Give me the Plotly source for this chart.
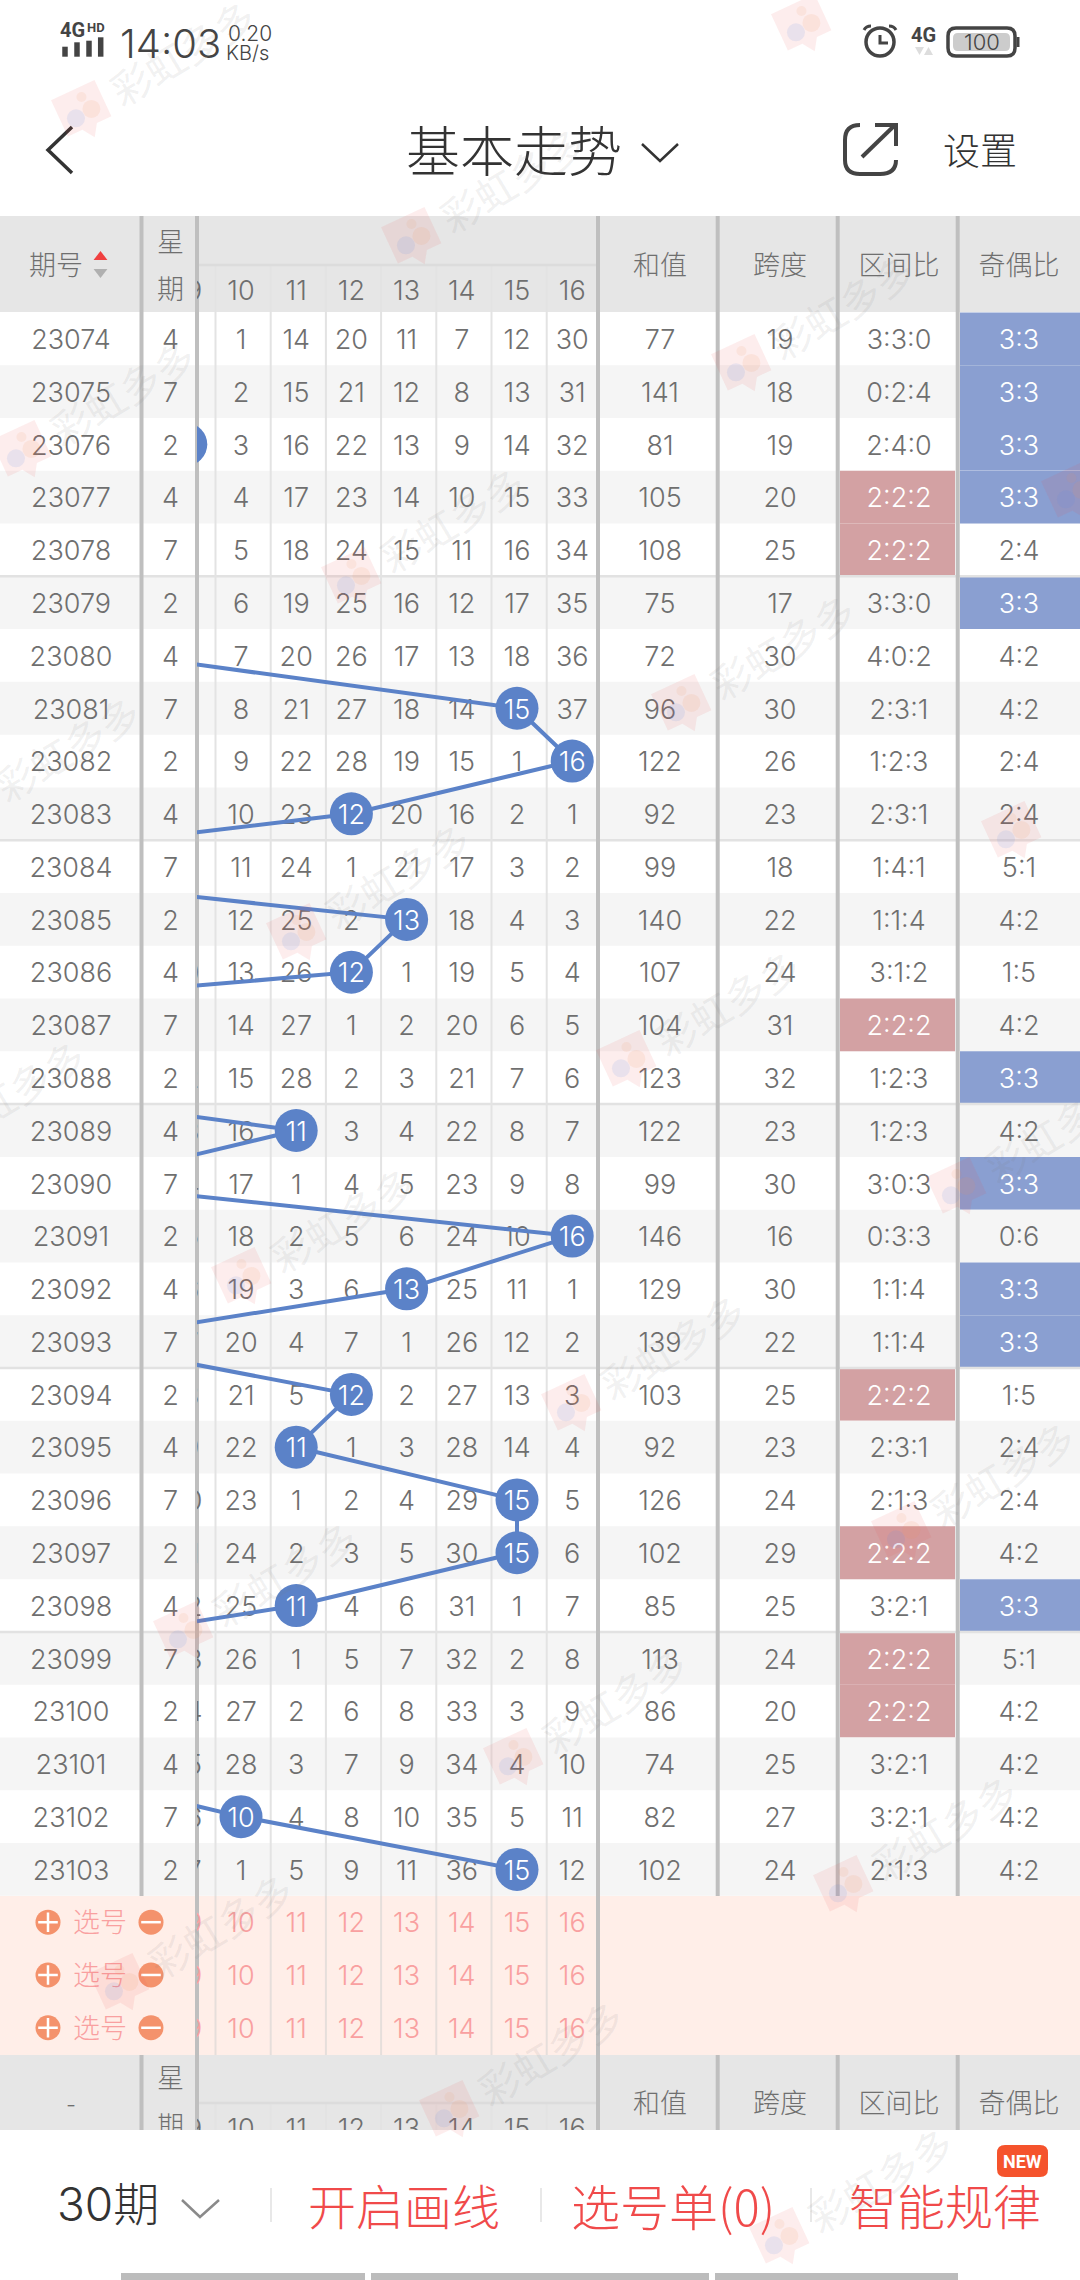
import math

import plotly.graph_objects as go


################################
######## DATA ########
################################

issue_list = list(range(23074, 23104))
week_list = [4, 7, 2, 4, 7, 2, 4, 7, 2, 4, 7, 2, 4, 7, 2, 4, 7, 2, 4, 7, 2, 4, 7, 2, 4, 7, 2, 4, 7, 2]

# ball of the column on each issue, part of them sit left of the scroll edge
ball_list = [3, 5, 9, 5, 6, 7, 8, 15, 16, 12, 4, 13, 12, 1, 4, 11, 7, 16, 13, 7, 12, 11, 15, 15, 11, 5, 3, 6, 10, 15]

col_09 = [7, 8, None, 1, 2, 3, 4, 5, 6, 7, 8, 9, 10, 11, 12, 13, 14, 15, 16, 17, 18, 19, 20, 21, 22, 23, 24, 25, 26, 27]
col_10 = [1, 2, 3, 4, 5, 6, 7, 8, 9, 10, 11, 12, 13, 14, 15, 16, 17, 18, 19, 20, 21, 22, 23, 24, 25, 26, 27, 28, None, 1]
col_11 = [14, 15, 16, 17, 18, 19, 20, 21, 22, 23, 24, 25, 26, 27, 28, None, 1, 2, 3, 4, 5, None, 1, 2, None, 1, 2, 3, 4, 5]
col_12 = [20, 21, 22, 23, 24, 25, 26, 27, 28, None, 1, 2, None, 1, 2, 3, 4, 5, 6, 7, None, 1, 2, 3, 4, 5, 6, 7, 8, 9]
col_13 = [11, 12, 13, 14, 15, 16, 17, 18, 19, 20, 21, None, 1, 2, 3, 4, 5, 6, None, 1, 2, 3, 4, 5, 6, 7, 8, 9, 10, 11]
col_14 = [7, 8, 9, 10, 11, 12, 13, 14, 15, 16, 17, 18, 19, 20, 21, 22, 23, 24, 25, 26, 27, 28, 29, 30, 31, 32, 33, 34, 35, 36]
col_15 = [12, 13, 14, 15, 16, 17, 18, None, 1, 2, 3, 4, 5, 6, 7, 8, 9, 10, 11, 12, 13, 14, None, None, 1, 2, 3, 4, 5, None]
col_16 = [30, 31, 32, 33, 34, 35, 36, 37, None, 1, 2, 3, 4, 5, 6, 7, 8, None, 1, 2, 3, 4, 5, 6, 7, 8, 9, 10, 11, 12]

sum_list = [77, 141, 81, 105, 108, 75, 72, 96, 122, 92, 99, 140, 107, 104, 123, 122, 99, 146, 129, 139, 103, 92, 126, 102, 85, 113, 86, 74, 82, 102]
span_list = [19, 18, 19, 20, 25, 17, 30, 30, 26, 23, 18, 22, 24, 31, 32, 23, 30, 16, 30, 22, 25, 23, 24, 29, 25, 24, 20, 25, 27, 24]
zone_list = ['3:3:0', '0:2:4', '2:4:0', '2:2:2', '2:2:2', '3:3:0', '4:0:2', '2:3:1', '1:2:3', '2:3:1',
             '1:4:1', '1:1:4', '3:1:2', '2:2:2', '1:2:3', '1:2:3', '3:0:3', '0:3:3', '1:1:4', '1:1:4',
             '2:2:2', '2:3:1', '2:1:3', '2:2:2', '3:2:1', '2:2:2', '2:2:2', '3:2:1', '3:2:1', '2:1:3']
parity_list = ['3:3', '3:3', '3:3', '3:3', '2:4', '3:3', '4:2', '4:2', '2:4', '2:4',
               '5:1', '4:2', '1:5', '4:2', '3:3', '4:2', '3:3', '0:6', '3:3', '3:3',
               '1:5', '2:4', '2:4', '4:2', '3:3', '5:1', '4:2', '4:2', '4:2', '4:2']

col_number_list = [9, 10, 11, 12, 13, 14, 15, 16]
col_label_list = ['09', '10', '11', '12', '13', '14', '15', '16']
col_value_list = [col_09, col_10, col_11, col_12, col_13, col_14, col_15, col_16]
header_right_list = ['和值', '跨度', '区间比', '奇偶比']


################################
######## LAYOUT PARAMS ########
################################

W, H = 1080, 2280
ROW0, ROW_H = 338.8, 52.78
COL10_X, COL_W = 241.0, 55.2
TABLE_TOP, TABLE_BOT = 216, 2130
LEFT_EDGE, GRID_EDGE = 197, 598
X_ISSUE, X_WEEK = 71, 170.5
X_RIGHT = [660, 780, 899, 1019]

FONT_NUM = "Inter, 'Noto Sans CJK SC', sans-serif"
FONT_CJK = "'Noto Sans CJK SC', sans-serif"
NUM_SIZE = 27
GREY_TXT = '#6f6f6f'
DARK = '#3a3a3a'
RED = '#f04a4a'
BLUE_BALL = '#5b82c8'
SEP = '#bfbfbf'
THIN = '#e3e3e3'
TXT_DY = 3.5 / ROW_H   # glyphs sit a little lower than the row middle


def to_row(py):
    return (py - ROW0) / ROW_H


n_row = len(issue_list)
row_index = list(range(n_row))
row_text = [i + TXT_DY for i in row_index]

shapes = []
annotations = []


def add_rect(x0, y0, x1, y1, color):
    shapes.append(dict(type='rect', xref='x', yref='y', x0=x0, y0=y0, x1=x1, y1=y1,
                       fillcolor=color, line_width=0, layer='below'))


def add_line(x0, y0, x1, y1, color, width):
    shapes.append(dict(type='line', xref='x', yref='y', x0=x0, y0=y0, x1=x1, y1=y1,
                       line=dict(color=color, width=width), layer='below'))


def add_path(path, color, width, fill=None):
    shapes.append(dict(type='path', xref='x', yref='y', path=path, line=dict(color=color, width=width),
                       fillcolor=fill if fill else 'rgba(0,0,0,0)', layer='below'))


def add_text(x, y, text, size, color=DARK, font=FONT_CJK, weight=400, angle=0):
    annotations.append(dict(xref='x', yref='y', x=x, y=y, text=text, showarrow=False, xanchor='center',
                            yanchor='middle', textangle=angle,
                            font=dict(size=size, color=color, family=font, weight=weight)))


################################
######## TABLE BACKGROUND ########
################################

for i in row_index:

    y0 = ROW0 + (i - 0.5) * ROW_H
    y1 = y0 + ROW_H

    if i % 2 == 1:
        add_rect(0, y0, W, y1, '#f5f5f5')

    if zone_list[i] == '2:2:2':
        add_rect(840, y0, 955, y1, '#d3a1a3')

    if parity_list[i] == '3:3':
        add_rect(960, y0, W, y1, '#8a9fd1')

add_rect(0, 1896, W, 2055, '#ffeee8')
add_rect(0, TABLE_TOP, W, 312, '#e6e6e6')
add_rect(0, 2055, W, TABLE_BOT, '#e6e6e6')

for i in range(5, n_row, 5):
    y_div = ROW0 + (i - 0.5) * ROW_H
    add_line(0, y_div, W, y_div, '#e2e2e2', 2.5)

for k in range(7):
    x_thin = 215.5 + k * COL_W
    add_line(x_thin, 265, x_thin, 1896, THIN, 2)
    add_line(x_thin, 1896, x_thin, 2055, '#e6dedb', 2)
    add_line(x_thin, 2103, x_thin, TABLE_BOT, THIN, 2)

add_line(LEFT_EDGE, 265, GRID_EDGE, 265, '#dcdcdc', 2.5)
add_line(LEFT_EDGE, 2103, GRID_EDGE, 2103, '#dcdcdc', 2.5)

for x_sep in [141.5, 717.7, 837.7, 957.7]:
    add_line(x_sep, TABLE_TOP, x_sep, 1896, SEP, 4)
    add_line(x_sep, 2055, x_sep, TABLE_BOT, SEP, 4)

add_line(LEFT_EDGE, TABLE_TOP, LEFT_EDGE, TABLE_BOT, SEP, 4)
add_line(GRID_EDGE, TABLE_TOP, GRID_EDGE, TABLE_BOT, SEP, 4)


################################
######## TRACES ########
################################

fig = go.Figure()

#### frame trace, keeps the pixel axes alive
fig.add_trace(go.Scatter(x=[0, W], y=[0, H], mode='markers', marker=dict(size=1, color='rgba(0,0,0,0)'),
                         xaxis='x', yaxis='y', hoverinfo='skip', showlegend=False))

#### omission numbers
for c, values in zip(col_number_list, col_value_list):

    _rows = [i for i in row_index if values[i] is not None]

    fig.add_trace(go.Scatter(
        x=[c] * len(_rows),
        y=[row_text[i] for i in _rows],
        text=[str(values[i]) for i in _rows],
        mode='text',
        textposition='middle center',
        textfont=dict(size=NUM_SIZE, color=GREY_TXT, family=FONT_NUM, weight=300),
        xaxis='x2', yaxis='y2', cliponaxis=True, hoverinfo='skip', showlegend=False,
    ))

#### column headers and the three picking rows
for y_row, color in [(to_row(293.5), GREY_TXT), (to_row(2131.5), GREY_TXT), (30 + TXT_DY, '#f9a0a0'), (31 + TXT_DY, '#f9a0a0'), (32 + TXT_DY, '#f9a0a0')]:

    fig.add_trace(go.Scatter(
        x=col_number_list,
        y=[y_row] * len(col_number_list),
        text=col_label_list,
        mode='text',
        textposition='middle center',
        textfont=dict(size=NUM_SIZE, color=color, family=FONT_NUM, weight=300),
        xaxis='x2', yaxis='y2', cliponaxis=True, hoverinfo='skip', showlegend=False,
    ))

#### trend line and balls
fig.add_trace(go.Scatter(
    x=ball_list,
    y=row_index,
    mode='lines+markers',
    line=dict(color=BLUE_BALL, width=4),
    marker=dict(size=43, color=BLUE_BALL, line_width=0),
    xaxis='x2', yaxis='y2', cliponaxis=True, hoverinfo='skip', showlegend=False,
))

fig.add_trace(go.Scatter(
    x=ball_list,
    y=row_text,
    text=[str(b) for b in ball_list],
    mode='text',
    textposition='middle center',
    textfont=dict(size=NUM_SIZE, color='#ffffff', family=FONT_NUM, weight=300),
    xaxis='x2', yaxis='y2', cliponaxis=True, hoverinfo='skip', showlegend=False,
))

#### left and right table columns
table_text_col = [
    (X_ISSUE, [str(v) for v in issue_list]),
    (X_WEEK, [str(v) for v in week_list]),
    (X_RIGHT[0], [str(v) for v in sum_list]),
    (X_RIGHT[1], [str(v) for v in span_list]),
]

for x_col, labels in table_text_col:

    fig.add_trace(go.Scatter(
        x=[x_col] * n_row, y=row_text, text=labels, mode='text', textposition='middle center',
        textfont=dict(size=NUM_SIZE, color=GREY_TXT, family=FONT_NUM, weight=300),
        xaxis='x3', yaxis='y2', hoverinfo='skip', showlegend=False,
    ))

fig.add_trace(go.Scatter(
    x=[X_RIGHT[2]] * n_row, y=row_text, text=zone_list, mode='text', textposition='middle center',
    textfont=dict(size=NUM_SIZE, color=['#ffffff' if z == '2:2:2' else GREY_TXT for z in zone_list], family=FONT_NUM, weight=300),
    xaxis='x3', yaxis='y2', hoverinfo='skip', showlegend=False,
))

fig.add_trace(go.Scatter(
    x=[X_RIGHT[3]] * n_row, y=row_text, text=parity_list, mode='text', textposition='middle center',
    textfont=dict(size=NUM_SIZE, color=['#ffffff' if p == '3:3' else GREY_TXT for p in parity_list], family=FONT_NUM, weight=300),
    xaxis='x3', yaxis='y2', hoverinfo='skip', showlegend=False,
))

#### header texts, second header is cut by the bottom bar
header_x = [56, X_WEEK, X_WEEK] + X_RIGHT + [X_ISSUE, X_WEEK, X_WEEK] + X_RIGHT
header_y = [268, 245, 292] + [268] * 4 + [2106, 2081, 2129] + [2106] * 4
header_txt = ['期号', '星', '期'] + header_right_list + ['-', '星', '期'] + header_right_list

fig.add_trace(go.Scatter(
    x=header_x, y=[to_row(v) for v in header_y], text=header_txt, mode='text', textposition='middle center',
    textfont=dict(size=27, color=GREY_TXT, family=FONT_CJK, weight=300),
    xaxis='x3', yaxis='y2', hoverinfo='skip', showlegend=False,
))

fig.add_trace(go.Scatter(
    x=[100.5, 100.5], y=[to_row(257), to_row(272)], mode='markers',
    marker=dict(symbol=['triangle-up', 'triangle-down'], size=12, color=['#f04040', '#b0b0b0'], line_width=0),
    xaxis='x3', yaxis='y2', hoverinfo='skip', showlegend=False,
))

#### picking rows, left part
pick_rows = [30, 31, 32]

fig.add_trace(go.Scatter(
    x=[100] * 3, y=[r + TXT_DY for r in pick_rows], text=['选号'] * 3, mode='text', textposition='middle center',
    textfont=dict(size=27, color='#f9a0a0', family=FONT_CJK, weight=300),
    xaxis='x3', yaxis='y2', hoverinfo='skip', showlegend=False,
))

fig.add_trace(go.Scatter(
    x=[48] * 3 + [151] * 3, y=pick_rows * 2, mode='markers',
    marker=dict(size=25, color='#f4926c', line_width=0),
    xaxis='x3', yaxis='y2', hoverinfo='skip', showlegend=False,
))

fig.add_trace(go.Scatter(
    x=[48] * 3, y=pick_rows, mode='markers',
    marker=dict(symbol='cross-thin', size=14, line=dict(color='#ffffff', width=2.5)),
    xaxis='x3', yaxis='y2', hoverinfo='skip', showlegend=False,
))

fig.add_trace(go.Scatter(
    x=[151] * 3, y=pick_rows, mode='markers',
    marker=dict(symbol='line-ew', size=14, line=dict(color='#ffffff', width=2.5)),
    xaxis='x3', yaxis='y2', hoverinfo='skip', showlegend=False,
))


################################
######## PHONE CHROME ########
################################

#### status bar left
for x_bar, y_top in [(65, 46.7), (77, 42.3), (89, 40.7), (100.7, 37.3)]:
    add_line(x_bar, y_top, x_bar, 56.7, '#444444', 5.5)

add_text(72, 30, '4G', 20, '#444444', 'Roboto, sans-serif', 700)
add_text(96, 27, 'HD', 13, '#444444', 'Roboto, sans-serif', 700)
add_text(170, 43.5, '14:03', 40, '#444444', FONT_NUM, 300)
add_text(250, 33, '0.20', 21, '#444444', FONT_NUM, 300)
add_text(247.5, 53, 'KB/s', 20, '#444444', FONT_NUM, 300)

#### status bar right
shapes.append(dict(type='circle', xref='x', yref='y', x0=866, y0=28, x1=894, y1=56,
                   line=dict(color='#444444', width=3.5), layer='below'))
add_path('M 880 35 L 880 43 L 888 43', '#444444', 3)
add_path('M 864 30 Q 866 26 871 26', '#444444', 3)
add_path('M 896 30 Q 894 26 889 26', '#444444', 3)
add_text(923, 35, '4G', 20, '#444444', 'Roboto, sans-serif', 700)
add_path('M 915 47 L 924 47 L 919.5 55 Z', '#dddddd', 0, '#dddddd')
add_path('M 924 55 L 933 55 L 928.5 47 Z', '#dddddd', 0, '#dddddd')
add_path('M 956 28 L 1007 28 Q 1015 28 1015 36 L 1015 48 Q 1015 56 1007 56 L 956 56 Q 948 56 948 48 L 948 36 Q 948 28 956 28 Z', '#444444', 3.5)
add_path('M 958 33 L 1005 33 Q 1010 33 1010 38 L 1010 46 Q 1010 51 1005 51 L 958 51 Q 953 51 953 46 L 953 38 Q 953 33 958 33 Z', '#cccccc', 0, '#cccccc')
add_line(1018, 37, 1018, 47, '#444444', 3)
add_text(982, 42, '100', 22, '#444444', FONT_NUM, 300)

#### navigation bar
add_path('M 72 127 L 48 150 L 72 173', '#333333', 3.5)
add_text(514, 148, '基本走势', 54, '#333333', FONT_CJK, 300)
add_path('M 642 144 L 660 161 L 678 144', '#333333', 2.5)
add_path('M 860 125 Q 845 125 845 140 L 845 160 Q 845 174 860 174 L 880 174 Q 896 174 896 160', '#444444', 4)
add_path('M 862 157 L 895 125', '#444444', 4)
add_path('M 875 125 L 896 125 L 896 146', '#444444', 4)
add_text(980, 149, '设置', 37, '#333333', FONT_CJK, 300)

#### bottom bar
add_text(108, 2204, '30期', 46, '#333333', FONT_NUM, 300)
add_path('M 182 2200 L 200 2217 L 219 2200', '#8a8a8a', 2.5)

for x_sep in [271, 541, 811]:
    add_line(x_sep, 2188, x_sep, 2222, '#e0e0e0', 1.5)

add_text(404, 2204, '开启画线', 48, RED, FONT_CJK, 300)
add_text(673, 2204, '选号单(0)', 49, RED, FONT_CJK, 300)
add_text(945, 2204, '智能规律', 48, RED, FONT_CJK, 300)
add_path('M 1005 2145 L 1040 2145 Q 1048 2145 1048 2153 L 1048 2169 Q 1048 2177 1040 2177 L 1005 2177 Q 997 2177 997 2169 L 997 2153 Q 997 2145 1005 2145 Z', '#f5532c', 0, '#f5532c')
add_text(1022, 2161, 'NEW', 18, '#ffffff', 'Roboto, sans-serif', 700)

for x0_bar, x1_bar in [(121, 365), (371, 709), (715, 958)]:
    add_rect(x0_bar, 2273, x1_bar, H, '#bcbcbc')


################################
######## WATERMARK ########
################################

wm_seed_list = [(142, -230), (82, 110), (22, 450), (-33, 806), (-88, 1150), (-146, 1504), (-210, 1856)]
WM_STEP = (330, 127)


def rotate(px, py, angle=-25):
    a = math.radians(angle)
    return px * math.cos(a) - py * math.sin(a), px * math.sin(a) + py * math.cos(a)


def add_logo(cx, cy):

    body = [(-24, -22), (24, -22), (24, 18), (8, 18), (0, 30), (-8, 18), (-24, 18)]
    pts = [rotate(*p) for p in body]
    path = 'M ' + ' L '.join(f'{cx + p[0]:.1f} {cy + p[1]:.1f}' for p in pts) + ' Z'
    shapes.append(dict(type='path', xref='x', yref='y', path=path, line_width=0,
                       fillcolor='rgba(235,80,80,0.10)', layer='above'))

    for dx, dy, r, color in [(-9, 5, 9, 'rgba(90,140,230,0.12)'), (9, 3, 9, 'rgba(240,150,90,0.12)'), (5, -12, 5, 'rgba(240,150,90,0.10)')]:
        ox, oy = rotate(dx, dy)
        shapes.append(dict(type='circle', xref='x', yref='y', x0=cx + ox - r, y0=cy + oy - r, x1=cx + ox + r, y1=cy + oy + r,
                           line_width=0, fillcolor=color, layer='above'))


for x_seed, y_seed in wm_seed_list:

    for k in range(6):

        cx, cy = x_seed + k * WM_STEP[0], y_seed + k * WM_STEP[1]

        if -40 < cx < W + 40 and -40 < cy < H + 40:
            add_logo(cx, cy)

        tx, ty = cx + 100, cy - 58

        if -60 < tx < W + 60 and -40 < ty < H + 40:
            add_text(tx, ty, '彩虹多多', 40, 'rgba(120,120,120,0.11)', FONT_CJK, 400, -31)


################################
######## FIGURE ########
################################

hidden = dict(visible=False, showgrid=False, zeroline=False, fixedrange=True)
y_domain = [(H - TABLE_BOT) / H, (H - TABLE_TOP) / H]

fig.update_layout(
    width=W,
    height=H,
    margin=dict(l=0, r=0, t=0, b=0),
    paper_bgcolor='#ffffff',
    plot_bgcolor='rgba(0,0,0,0)',
    showlegend=False,
    shapes=shapes,
    annotations=annotations,
    xaxis=dict(domain=[0, 1], range=[0, W], anchor='y', **hidden),
    yaxis=dict(domain=[0, 1], range=[H, 0], anchor='x', **hidden),
    xaxis2=dict(domain=[LEFT_EDGE / W, GRID_EDGE / W],
                range=[10 + (LEFT_EDGE - COL10_X) / COL_W, 10 + (GRID_EDGE - COL10_X) / COL_W],
                anchor='y2', **hidden),
    yaxis2=dict(domain=y_domain, range=[to_row(TABLE_BOT), to_row(TABLE_TOP)], anchor='x2', **hidden),
    xaxis3=dict(domain=[0, 1], range=[0, W], anchor='y2', **hidden),
)

fig.write_html("out.html", post_script="document.body.style.margin='0';", config=dict(displayModeBar=False))
